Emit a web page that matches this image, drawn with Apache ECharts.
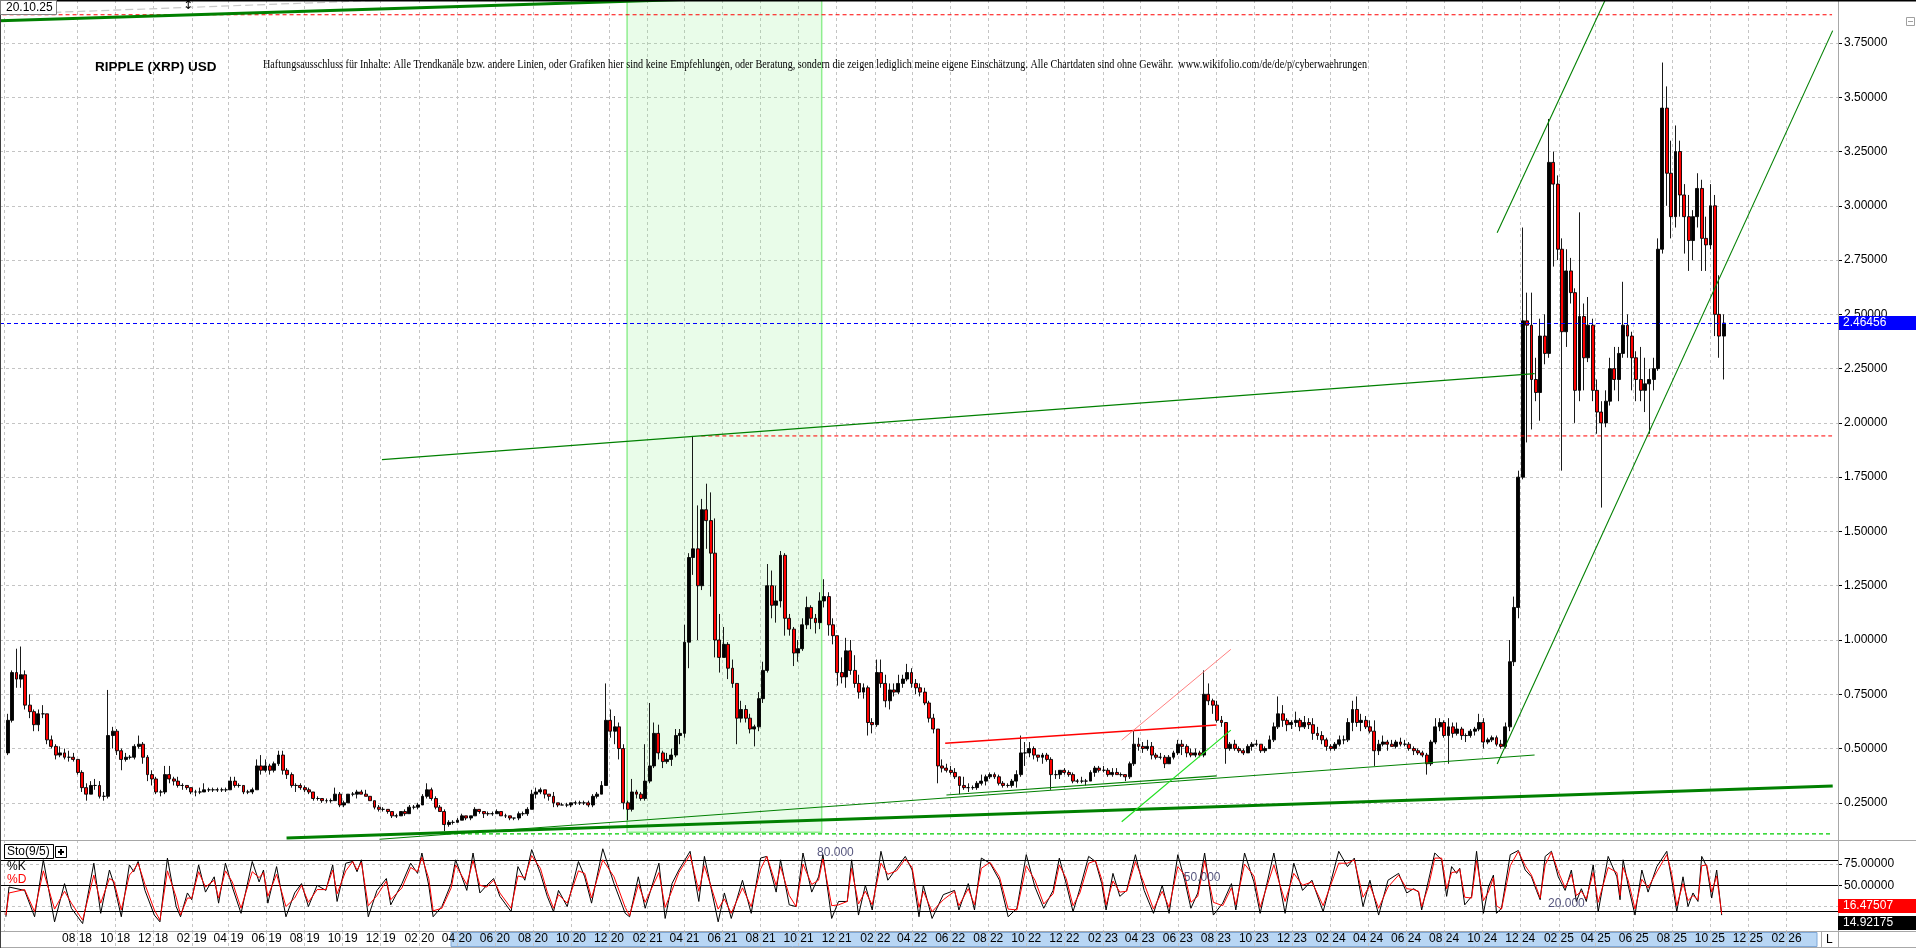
<!DOCTYPE html>
<html>
<head>
<meta charset="utf-8">
<title>RIPPLE (XRP) USD</title>
<script src="https://cdn.jsdelivr.net/npm/echarts@6.0.0/dist/echarts.min.js"></script>
<style>
html,body{margin:0;padding:0;background:#fff;overflow:hidden;}
#chart{width:1916px;height:948px;}
</style>
</head>
<body>
<div id="chart"></div>
<script>
// ================= DATA =================
const chartTitle = 'RIPPLE (XRP) USD';
const disclaimer = 'Haftungsausschluss für Inhalte: Alle Trendkanäle bzw. andere Linien, oder Grafiken hier sind keine Empfehlungen, oder Beratung, sondern die zeigen lediglich meine eigene Einschätzung. Alle Chartdaten sind ohne Gewähr.  www.wikifolio.com/de/de/p/cyberwaehrungen';
const chartDate = '20.10.25';
const stochName = 'Sto(9/5)';
const lastPrice = 2.46456;
const lastD = 16.47507;
const lastK = 14.92175;

const priceTicks = [0.25,0.5,0.75,1.0,1.25,1.5,1.75,2.0,2.25,2.5,2.75,3.0,3.25,3.5,3.75];
const stochTicks = [25,50,75];
const stochLabelTicks = [50,75];
const stochLevels = [80,50,20];
const stochLevelLabels = [['2021-11-29',80,'80.000'],['2023-07-10',50,'50.000'],['2025-02-13',20,'20.000']];
const monthTicks = ['2018-08','2018-10','2018-12',
 '2019-02','2019-04','2019-06','2019-08','2019-10','2019-12',
 '2020-02','2020-04','2020-06','2020-08','2020-10','2020-12',
 '2021-02','2021-04','2021-06','2021-08','2021-10','2021-12',
 '2022-02','2022-04','2022-06','2022-08','2022-10','2022-12',
 '2023-02','2023-04','2023-06','2023-08','2023-10','2023-12',
 '2024-02','2024-04','2024-06','2024-08','2024-10','2024-12',
 '2025-02','2025-04','2025-06','2025-08','2025-10','2025-12',
 '2026-02'];
const firstGridLine = '2018-04-07';

// weekly candles: [open, high, low, close], one per week starting at the given Monday
const start2018 = '2018-04-09';
const ohlc2018 = [
[0.48,0.66,0.47,0.63],[0.63,0.86,0.62,0.85],[0.85,0.96,0.78,0.82],[0.82,0.97,0.78,0.84],[0.84,0.86,0.68,0.70],
[0.70,0.75,0.64,0.67],[0.67,0.68,0.58,0.61],[0.61,0.68,0.58,0.66],[0.66,0.70,0.64,0.66],[0.66,0.66,0.52,0.54],
[0.54,0.56,0.50,0.51],[0.51,0.52,0.45,0.47],[0.47,0.51,0.46,0.48],[0.48,0.50,0.45,0.46],[0.46,0.49,0.44,0.46],
[0.46,0.48,0.44,0.45],[0.45,0.45,0.38,0.39],[0.39,0.40,0.30,0.32],[0.32,0.34,0.26,0.29],[0.29,0.35,0.29,0.33],
[0.33,0.36,0.31,0.33],[0.33,0.35,0.27,0.28],[0.28,0.30,0.26,0.28],[0.28,0.77,0.27,0.56],[0.56,0.60,0.50,0.58],
[0.58,0.59,0.47,0.49],[0.49,0.50,0.40,0.45],[0.45,0.48,0.44,0.46],[0.46,0.47,0.45,0.46],[0.46,0.52,0.45,0.51],
[0.51,0.56,0.50,0.52],[0.52,0.53,0.43,0.46],[0.46,0.47,0.35,0.38],[0.38,0.40,0.33,0.36],[0.36,0.37,0.29,0.30],
[0.30,0.31,0.28,0.30],[0.30,0.42,0.29,0.38],[0.38,0.42,0.34,0.36],[0.36,0.37,0.33,0.35]];
const start2019 = '2019-01-07';
const ohlc2019 = [
[0.35,0.37,0.32,0.33],[0.33,0.34,0.31,0.33],[0.33,0.33,0.31,0.32],[0.32,0.32,0.29,0.30],[0.30,0.31,0.28,0.30],
[0.30,0.32,0.29,0.30],[0.30,0.34,0.30,0.31],[0.31,0.32,0.30,0.31],[0.31,0.32,0.30,0.31],[0.31,0.32,0.30,0.31],
[0.31,0.32,0.30,0.31],[0.31,0.32,0.30,0.31],[0.31,0.37,0.31,0.35],[0.35,0.37,0.32,0.33],[0.33,0.34,0.32,0.33],
[0.33,0.33,0.29,0.30],[0.30,0.31,0.29,0.30],[0.30,0.32,0.29,0.31],[0.31,0.45,0.31,0.42],[0.42,0.47,0.38,0.40],
[0.40,0.45,0.39,0.42],[0.42,0.43,0.38,0.40],[0.40,0.44,0.39,0.43],[0.43,0.49,0.42,0.47],[0.47,0.49,0.38,0.40],
[0.40,0.41,0.36,0.38],[0.38,0.39,0.32,0.33],[0.33,0.34,0.30,0.33],[0.33,0.34,0.31,0.32],[0.32,0.33,0.30,0.31],
[0.31,0.32,0.29,0.30],[0.30,0.30,0.26,0.27],[0.27,0.28,0.26,0.27],[0.27,0.27,0.25,0.26],[0.26,0.27,0.25,0.26],
[0.26,0.27,0.25,0.26],[0.26,0.32,0.26,0.29],[0.29,0.30,0.23,0.24],[0.24,0.26,0.23,0.25],[0.25,0.29,0.25,0.29],
[0.29,0.30,0.28,0.29],[0.29,0.31,0.27,0.30],[0.30,0.31,0.29,0.29],[0.29,0.31,0.28,0.28],[0.28,0.28,0.26,0.26],
[0.26,0.26,0.22,0.23],[0.23,0.24,0.21,0.22],[0.22,0.23,0.21,0.22],[0.22,0.22,0.20,0.21],[0.21,0.21,0.18,0.19],
[0.19,0.20,0.18,0.19],[0.19,0.21,0.19,0.21]];
const start2020 = '2020-01-06';
const ohlc2020 = [
[0.21,0.22,0.19,0.20],[0.20,0.24,0.20,0.23],[0.23,0.24,0.22,0.23],[0.23,0.25,0.22,0.24],[0.24,0.29,0.24,0.28],
[0.28,0.34,0.27,0.31],[0.31,0.32,0.26,0.27],[0.27,0.28,0.22,0.23],[0.23,0.24,0.21,0.21],[0.21,0.22,0.12,0.15],
[0.15,0.17,0.14,0.16],[0.16,0.17,0.15,0.16],[0.16,0.18,0.16,0.17],[0.17,0.20,0.17,0.19],[0.19,0.19,0.17,0.18],
[0.18,0.19,0.17,0.19],[0.19,0.23,0.19,0.22],[0.22,0.22,0.20,0.21],[0.21,0.21,0.18,0.20],[0.20,0.21,0.19,0.20],
[0.20,0.21,0.19,0.20],[0.20,0.22,0.20,0.21],[0.21,0.21,0.19,0.19],[0.19,0.20,0.18,0.19],[0.19,0.19,0.17,0.18],
[0.18,0.18,0.17,0.18],[0.18,0.21,0.17,0.20],[0.20,0.21,0.19,0.20],[0.20,0.23,0.19,0.22],[0.22,0.31,0.22,0.29],
[0.29,0.32,0.27,0.30],[0.30,0.32,0.29,0.31],[0.31,0.31,0.27,0.29],[0.29,0.29,0.26,0.28],[0.28,0.30,0.23,0.25],
[0.25,0.25,0.23,0.24],[0.24,0.25,0.24,0.24],[0.24,0.25,0.23,0.24],[0.24,0.25,0.23,0.25],[0.25,0.26,0.24,0.25],
[0.25,0.26,0.24,0.25],[0.25,0.26,0.24,0.25],[0.25,0.26,0.23,0.24],[0.24,0.29,0.23,0.28],[0.28,0.30,0.27,0.29],
[0.29,0.35,0.29,0.33],[0.33,0.80,0.33,0.63],[0.63,0.68,0.55,0.58],[0.58,0.65,0.52,0.60],[0.60,0.62,0.45,0.50],
[0.50,0.52,0.22,0.25],[0.25,0.26,0.17,0.22]];
const start2021 = '2021-01-04';
const ohlc2021 = [
[0.22,0.36,0.21,0.30],[0.30,0.31,0.27,0.29],[0.29,0.30,0.26,0.27],[0.27,0.52,0.26,0.35],[0.35,0.71,0.34,0.42],
[0.42,0.62,0.41,0.57],[0.57,0.61,0.45,0.48],[0.48,0.49,0.41,0.44],[0.44,0.48,0.43,0.45],[0.45,0.50,0.42,0.47],
[0.47,0.59,0.46,0.56],[0.56,0.59,0.52,0.57],[0.57,1.07,0.55,0.99],[0.99,1.40,0.87,1.38],[1.38,1.94,1.30,1.42],
[1.42,1.62,1.00,1.25],[1.25,1.65,1.23,1.60],[1.60,1.72,1.42,1.55],[1.55,1.68,1.20,1.40],[1.40,1.56,0.92,1.00],
[1.00,1.12,0.85,0.92],[0.92,1.06,0.92,0.98],[0.98,0.99,0.82,0.87],[0.87,0.91,0.78,0.80],[0.80,0.80,0.52,0.64],
[0.64,0.72,0.62,0.68],[0.68,0.70,0.62,0.64],[0.64,0.66,0.57,0.59],[0.59,0.61,0.51,0.60],[0.60,0.76,0.58,0.73],
[0.73,0.90,0.71,0.86],[0.86,1.35,0.85,1.25],[1.25,1.32,1.10,1.16],[1.16,1.25,1.08,1.18],[1.18,1.41,1.15,1.39],
[1.39,1.40,1.02,1.10],[1.10,1.12,1.02,1.05],[1.05,1.06,0.88,0.94],[0.94,1.00,0.90,0.96],[0.96,1.10,0.95,1.07],
[1.07,1.20,1.05,1.15],[1.15,1.16,1.05,1.10],[1.10,1.12,1.03,1.08],[1.08,1.22,1.05,1.18],[1.18,1.28,1.15,1.20],
[1.20,1.22,1.02,1.07],[1.07,1.10,0.98,1.02],[1.02,1.02,0.79,0.85],[0.85,0.92,0.80,0.83],[0.83,1.01,0.78,0.95],
[0.95,1.00,0.84,0.86],[0.86,0.93,0.78,0.80]];
const start2022 = '2022-01-03';
const ohlc2022 = [
[0.80,0.84,0.73,0.76],[0.76,0.80,0.73,0.78],[0.78,0.79,0.56,0.62],[0.62,0.64,0.57,0.61],[0.61,0.91,0.60,0.85],
[0.85,0.91,0.78,0.80],[0.80,0.84,0.69,0.72],[0.72,0.80,0.68,0.77],[0.77,0.80,0.74,0.76],[0.76,0.84,0.75,0.80],
[0.80,0.84,0.78,0.82],[0.82,0.89,0.81,0.85],[0.85,0.87,0.78,0.80],[0.80,0.82,0.75,0.78],[0.78,0.80,0.74,0.76],
[0.76,0.78,0.70,0.71],[0.71,0.72,0.62,0.64],[0.64,0.66,0.57,0.59],[0.59,0.59,0.34,0.42],[0.42,0.45,0.39,0.41],
[0.41,0.43,0.39,0.40],[0.40,0.42,0.38,0.39],[0.39,0.41,0.36,0.37],[0.37,0.37,0.29,0.33],[0.33,0.37,0.31,0.32],
[0.32,0.34,0.30,0.32],[0.32,0.33,0.31,0.32],[0.32,0.35,0.31,0.34],[0.34,0.38,0.33,0.35],[0.35,0.38,0.33,0.37],
[0.37,0.39,0.36,0.38],[0.38,0.39,0.36,0.37],[0.37,0.38,0.33,0.34],[0.34,0.35,0.32,0.33],[0.33,0.34,0.32,0.33],
[0.33,0.36,0.32,0.35],[0.35,0.40,0.32,0.38],[0.38,0.56,0.37,0.48],[0.48,0.53,0.42,0.48],[0.48,0.53,0.46,0.50],
[0.50,0.51,0.45,0.47],[0.47,0.47,0.44,0.46],[0.46,0.48,0.43,0.47],[0.47,0.48,0.44,0.45],[0.45,0.46,0.31,0.38],
[0.38,0.40,0.36,0.38],[0.38,0.40,0.36,0.40],[0.40,0.41,0.38,0.39],[0.39,0.40,0.37,0.38],[0.38,0.39,0.34,0.35],
[0.35,0.36,0.34,0.35],[0.35,0.37,0.34,0.35]];
const start2023 = '2023-01-02';
const ohlc2023 = [
[0.35,0.36,0.33,0.35],[0.35,0.40,0.35,0.39],[0.39,0.42,0.37,0.41],[0.41,0.42,0.39,0.40],[0.40,0.42,0.39,0.40],
[0.40,0.41,0.37,0.38],[0.38,0.41,0.37,0.39],[0.39,0.41,0.38,0.38],[0.38,0.39,0.37,0.38],[0.38,0.38,0.35,0.37],
[0.37,0.44,0.36,0.43],[0.43,0.58,0.42,0.52],[0.52,0.55,0.49,0.51],[0.51,0.53,0.48,0.50],[0.50,0.54,0.49,0.51],
[0.51,0.53,0.45,0.47],[0.47,0.48,0.45,0.46],[0.46,0.48,0.45,0.46],[0.46,0.47,0.41,0.43],[0.43,0.47,0.43,0.46],
[0.46,0.49,0.45,0.48],[0.48,0.54,0.47,0.52],[0.52,0.54,0.47,0.51],[0.51,0.52,0.46,0.48],[0.48,0.50,0.46,0.47],
[0.47,0.50,0.46,0.48],[0.48,0.49,0.46,0.47],[0.47,0.86,0.46,0.75],[0.75,0.80,0.70,0.72],[0.72,0.73,0.66,0.70],
[0.70,0.72,0.62,0.63],[0.63,0.65,0.60,0.62],[0.62,0.62,0.43,0.50],[0.50,0.53,0.49,0.52],[0.52,0.54,0.49,0.50],
[0.50,0.51,0.48,0.49],[0.49,0.50,0.47,0.48],[0.48,0.52,0.48,0.51],[0.51,0.53,0.49,0.52],[0.52,0.54,0.51,0.52],
[0.52,0.52,0.48,0.49],[0.49,0.51,0.48,0.50],[0.50,0.56,0.50,0.54],[0.54,0.62,0.53,0.60],[0.60,0.74,0.59,0.66],
[0.66,0.70,0.60,0.63],[0.63,0.64,0.58,0.61],[0.61,0.63,0.59,0.62],[0.62,0.67,0.60,0.63],[0.63,0.64,0.58,0.60],
[0.60,0.65,0.59,0.62],[0.62,0.64,0.59,0.61]];
const start2024 = '2024-01-01';
const ohlc2024 = [
[0.61,0.64,0.54,0.57],[0.57,0.60,0.54,0.56],[0.56,0.58,0.52,0.54],[0.54,0.55,0.49,0.51],[0.51,0.52,0.49,0.50],
[0.50,0.53,0.49,0.52],[0.52,0.56,0.51,0.54],[0.54,0.56,0.52,0.54],[0.54,0.64,0.53,0.62],[0.62,0.72,0.58,0.68],
[0.68,0.74,0.60,0.62],[0.62,0.66,0.58,0.63],[0.63,0.65,0.59,0.60],[0.60,0.63,0.57,0.58],[0.58,0.63,0.42,0.49],
[0.49,0.54,0.47,0.52],[0.52,0.56,0.51,0.53],[0.53,0.54,0.49,0.52],[0.52,0.54,0.51,0.51],[0.51,0.54,0.50,0.53],
[0.53,0.55,0.51,0.52],[0.52,0.54,0.51,0.52],[0.52,0.53,0.49,0.50],[0.50,0.51,0.47,0.49],[0.49,0.50,0.47,0.48],
[0.48,0.49,0.46,0.47],[0.47,0.48,0.38,0.43],[0.43,0.54,0.42,0.53],[0.53,0.64,0.52,0.60],[0.60,0.64,0.58,0.62],
[0.62,0.63,0.55,0.56],[0.56,0.64,0.43,0.60],[0.60,0.62,0.55,0.57],[0.57,0.62,0.56,0.59],[0.59,0.60,0.54,0.56],
[0.56,0.57,0.53,0.56],[0.56,0.59,0.55,0.58],[0.58,0.60,0.56,0.59],[0.59,0.66,0.58,0.62],[0.62,0.64,0.50,0.53],
[0.53,0.55,0.52,0.54],[0.54,0.56,0.53,0.55],[0.55,0.56,0.51,0.52],[0.52,0.54,0.50,0.51],[0.51,0.62,0.50,0.60],
[0.60,1.00,0.58,0.90],[0.90,1.20,0.88,1.15],[1.15,1.78,1.10,1.75],[1.75,2.90,1.74,2.47],[2.47,2.60,1.91,2.45],
[2.45,2.60,1.97,2.20],[2.20,2.30,2.10,2.14],[2.14,2.48,2.01,2.40]];
const start2025 = '2025-01-06';
const ohlc2025 = [
[2.40,2.50,2.27,2.32],[2.32,3.40,2.30,3.20],[3.20,3.25,2.72,3.10],[3.10,3.14,2.75,2.80],[2.80,2.85,1.78,2.42],
[2.42,2.80,2.35,2.70],[2.70,2.76,2.55,2.60],[2.60,2.62,2.00,2.15],[2.15,2.97,2.10,2.49],[2.49,2.55,2.15,2.30],
[2.30,2.58,2.28,2.45],[2.45,2.48,2.10,2.15],[2.15,2.20,1.95,2.05],[2.05,2.10,1.61,2.00],[2.00,2.15,1.98,2.10],
[2.10,2.30,2.08,2.25],[2.25,2.35,2.15,2.20],[2.20,2.35,2.10,2.32],[2.32,2.65,2.30,2.45],[2.45,2.50,2.30,2.40],
[2.40,2.42,2.15,2.30],[2.30,2.33,2.10,2.20],[2.20,2.35,2.10,2.15],[2.15,2.30,2.05,2.18],[2.18,2.25,1.95,2.20],
[2.20,2.30,2.15,2.25],[2.25,2.85,2.24,2.80],[2.80,3.66,2.78,3.45],[3.45,3.55,3.00,3.15],[3.15,3.30,2.85,2.95],
[2.95,3.37,2.90,3.25],[3.25,3.30,2.95,3.05],[3.05,3.10,2.78,2.95],[2.95,3.05,2.70,2.84],[2.84,2.98,2.75,2.95],
[2.95,3.15,2.90,3.08],[3.08,3.12,2.70,2.85],[2.85,2.95,2.70,2.82],[2.82,3.10,2.80,3.00],[3.00,3.05,2.40,2.50],
[2.50,2.68,2.30,2.40],[2.40,2.50,2.20,2.46]];

// stochastic (9/5): turning points, day offset from stochStart, %K and %D
const stochStart = '2018-04-09';
const stochDay = [
0,5,30,46,60,78,94,105,123,141,152,166,173,185,198,205,212,223,238,247,
259,273,280,291,298,309,320,334,341,352,363,377,395,406,413,420,434,449,463,474,
485,499,513,524,531,545,556,563,570,581,595,610,617,635,649,660,667,678,685,699,
714,721,739,749,760,771,782,792,810,821,832,843,857,868,878,886,900,918,928,939,
957,975,993,1000,1014,1025,1047,1057,1068,1079,1097,1111,
1120,1142,1152,1163,1181,1195,1210,1220,1235,1242,1256,1267,1278,1292,1303,1310,1324,1335,1349,1356,
1367,1378,1389,1403,1414,1428,1442,1453,1464,1471,1485,1503,1521,1528,1543,1553,1564,1578,1593,1607,
1621,1636,1650,1664,1679,1689,1700,1711,1722,1736,1747,1757,1764,1775,1786,1797,1811,1825,1840,1854,
1865,1879,1890,1900,1911,1922,1936,1951,1965,1972,1986,2001,2011,2033,2051,2065,2079,2094,2112,2137,
2151,2162,2176,2187,2201,2216,2233,
2246,2257,2265,2270,2281,2291,2302,2310,2318,2326,2331,2339,2350,2358,2369,2377,2385,2390,2398,2412,
2425,2436,2446,2454,2460,2468,2478,2489,2500,2510,2518,2526,2534,2545,2553,2569,2583,2588,2593,2601,
2612,2623,2633,2647,2663,2671,2679,2689,2697,2705,2713,2719,2727,2735,2743,2751];
const stochK = [
13,48,44,13,80,7,52,23,5,76,17,68,52,13,74,66,78,44,15,7,
82,25,13,41,33,74,42,60,29,76,48,17,78,54,68,29,72,13,41,52,
25,50,44,74,31,76,78,66,80,13,44,58,27,52,76,64,88,50,13,25,
52,80,44,88,41,50,58,37,19,72,56,92,64,37,19,44,25,78,60,29,
93,52,17,13,60,23,76,11,52,68,90,31,
84,7,41,11,56,17,82,84,42,80,27,25,88,42,60,86,11,31,31,80,
15,50,21,90,56,70,84,68,13,50,11,39,44,21,52,21,82,76,56,13,
23,86,48,23,44,82,52,19,46,84,78,52,21,64,37,44,86,44,17,50,
17,86,56,23,41,88,15,29,52,21,88,54,17,88,17,76,44,56,19,90,
72,82,25,56,15,56,64,
41,46,42,21,56,88,80,37,72,64,70,27,37,90,17,48,62,17,23,86,
91,68,60,44,33,84,90,60,44,68,31,46,31,74,19,84,60,33,80,50,
15,68,42,72,90,56,19,60,25,41,31,84,72,35,68,14.92];
const stochD = [
15,41,45,19,67,22,43,29,9,62,29,58,55,21,62,68,76,51,21,9,
67,36,15,35,35,66,48,56,35,67,54,23,66,59,65,37,63,25,35,50,
30,45,45,68,40,67,78,68,77,26,38,55,33,47,71,66,83,58,20,23,
47,74,51,79,50,48,56,41,23,61,59,85,70,42,23,39,29,67,64,35,
80,60,24,14,51,30,65,24,44,65,86,43,
73,22,34,17,47,25,69,84,50,72,38,25,75,51,56,81,26,27,31,70,
28,43,27,76,63,67,81,71,24,43,19,33,43,26,46,27,70,77,60,22,
21,73,56,28,40,74,58,26,41,76,79,57,27,55,42,43,78,52,22,43,
24,72,62,30,37,79,30,26,47,27,75,61,24,74,31,64,50,54,26,76,
76,80,36,50,23,48,62,
46,45,43,25,49,82,82,46,65,66,69,36,35,79,32,42,59,26,22,73,
90,73,62,47,35,74,89,66,47,63,38,43,34,65,30,71,65,38,71,56,
22,57,47,66,86,63,26,52,32,38,33,73,74,42,61,16.48];

// trend lines and horizontal marks drawn on the chart: [date, price]
const tlTopThick     = [['2018-03-01',3.850],['2022-03-12',3.981]];
const tlBottomThick  = [['2019-07-03',0.088],['2026-04-16',0.3275]];
const tlUpperLong    = [['2019-12-03',1.831],['2024-12-24',2.227]];
const tlLowerLong    = [['2019-11-29',0.082],['2024-12-24',0.470]];
const tlChannel22Low = [['2022-05-26',0.286],['2023-08-02',0.374]];
const tlRed22        = [['2022-05-24',0.524],['2023-08-02',0.609]];
const tlPinkDiag     = [['2023-03-03',0.539],['2023-08-25',0.957]];
const tlLimeDiag     = [['2023-03-03',0.163],['2023-08-25',0.585]];
const tlChannelUp    = [['2024-10-25',2.876],['2025-06-27',4.392]];
const tlChannelLow   = [['2024-10-25',0.429],['2026-04-16',3.807]];
const tlGreyTop      = [['2018-06-24',3.891],['2020-02-18',3.955]];
const hlRedTop       = [['2018-03-01',3.88],['2026-04-15',3.88]];
const hlRedMid       = [['2021-04-28',1.94],['2026-04-15',1.94]];
const hlGreenLow     = [['2020-03-05',0.107],['2026-04-15',0.107]];
const greenZone      = [['2020-12-30',0.115],['2021-11-07',3.948]];

// ================= BUILD =================
const DAY = 86400000;
function utc(s){const p=s.split('-').map(Number);return Date.UTC(p[0],p[1]-1,p[2]||1);}
const t0 = utc(stochStart);
// axis extent (calibrated to the reference frame)
const xMin = t0 - 9.46*DAY, xMax = t0 + 2937.5*DAY;
const yMin = 0.0788, yMax = 3.948;
const sMin = -3.76, sMax = 103.3;

const years = [[start2018,ohlc2018],[start2019,ohlc2019],[start2020,ohlc2020],[start2021,ohlc2021],
               [start2022,ohlc2022],[start2023,ohlc2023],[start2024,ohlc2024],[start2025,ohlc2025]];
const candles = [];
years.forEach(([s,arr])=>{const ts=utc(s);arr.forEach((q,i)=>{candles.push([ts+(i*7+3)*DAY,q[0],q[3],q[2],q[1]]);});});

const kData = stochDay.map((d,i)=>[t0+d*DAY, stochK[i]]);
const dData = stochDay.map((d,i)=>[t0+d*DAY, stochD[i]]);

const monthTs = monthTicks.map(m=>utc(m+'-01'));
const gridTs = [utc(firstGridLine)].concat(monthTs);
function fmtMonth(v){const d=new Date(Number(v));const m=d.getUTCMonth()+1;const y=d.getUTCFullYear()%100;return (m<10?'0':'')+m+' '+(y<10?'0':'')+y;}

const FONT = 'Liberation Sans';
const splitStyle = {show:true,lineStyle:{color:'#c4c4c4',width:1,type:[3,3]}};

function mkLine(pts,color,width,type,z){
  return {type:'line',xAxisIndex:0,yAxisIndex:0,data:pts.map(p=>[utc(p[0]),p[1]]),symbol:'none',silent:true,
    clip:true,lineStyle:{color:color,width:width,type:type||'solid'},z:z||4,animation:false};
}

const series = [
  {type:'candlestick',xAxisIndex:0,yAxisIndex:0,data:candles,encode:{x:0,y:[1,2,3,4]},barWidth:3.4,z:3,
   itemStyle:{color:'#000000',color0:'#ff0000',borderColor:'#000000',borderColor0:'#000000',borderWidth:0.9},
   markArea:{silent:true,itemStyle:{color:'rgba(144,238,144,0.2)',borderColor:'#90ee90',borderWidth:1.5},
     data:[[{coord:[utc(greenZone[0][0]),greenZone[0][1]]},{coord:[utc(greenZone[1][0]),greenZone[1][1]]}]]},
   markLine:{silent:true,symbol:'none',animation:false,data:[{yAxis:lastPrice}],
     lineStyle:{color:'#0000ff',type:[4,3],width:1},
     label:{show:true,position:'end',distance:0,formatter:lastPrice.toFixed(5),backgroundColor:'#0000ff',
       color:'#ffffff',padding:[1,33,1,5],fontSize:12,fontFamily:FONT}}},
  mkLine(hlRedTop,'#ff0000',1,[4,3],4),
  mkLine(hlRedMid,'#ff0000',1,[4,3],4),
  mkLine(hlGreenLow,'#00cc00',1.2,[4,3],4),
  mkLine(tlGreyTop,'#c8c8c8',1.2,[8,4],4),
  mkLine(tlTopThick,'#008000',3,'solid',5),
  mkLine(tlBottomThick,'#008000',3,'solid',5),
  mkLine(tlUpperLong,'#008000',1.1,'solid',5),
  mkLine(tlLowerLong,'#008000',1.1,'solid',5),
  mkLine(tlChannel22Low,'#008000',1.1,'solid',5),
  mkLine(tlRed22,'#ff0000',1.5,'solid',5),
  mkLine(tlPinkDiag,'#ff8080',1,'solid',5),
  mkLine(tlLimeDiag,'#22e022',1.2,'solid',5),
  mkLine(tlChannelUp,'#008000',1.1,'solid',5),
  mkLine(tlChannelLow,'#008000',1.1,'solid',5),
  {type:'line',xAxisIndex:1,yAxisIndex:1,data:kData,symbol:'none',silent:true,lineStyle:{color:'#000000',width:1},z:4,
   markLine:{silent:true,symbol:'none',animation:false,label:{show:false},
     lineStyle:{color:'#000000',type:'solid',width:1},data:stochLevels.map(v=>({yAxis:v}))}},
  {type:'line',xAxisIndex:1,yAxisIndex:1,data:dData,symbol:'none',silent:true,lineStyle:{color:'#ff0000',width:1},z:5},
  {type:'scatter',xAxisIndex:1,yAxisIndex:1,symbolSize:1,itemStyle:{color:'rgba(0,0,0,0)'},silent:true,z:6,
   data:stochLevelLabels.map(a=>[utc(a[0]),a[1],a[2]]),
   label:{show:true,position:'top',distance:1,formatter:p=>stochLevelLabels[p.dataIndex][2],color:'#2b2b5c',fontSize:12,fontFamily:FONT}}
];

// disclaimer width fit
const cv = document.createElement('canvas').getContext('2d');
cv.font = '13px "Liberation Serif"';
const discW = cv.measureText(disclaimer).width || 1200;
const discScale = 1104/discW;

const graphic = [
  {type:'rect',z:-1,silent:true,shape:{x:451,y:932.5,width:1366,height:14},style:{fill:'#b8d6f4',stroke:'#7fa8d8',lineWidth:1}},
  {type:'line',z:50,silent:true,shape:{x1:0,y1:840.5,x2:1916,y2:840.5},style:{stroke:'#a8a8a8',lineWidth:1}},
  {type:'line',z:50,silent:true,shape:{x1:0,y1:931.5,x2:1916,y2:931.5},style:{stroke:'#a8a8a8',lineWidth:1}},
  {type:'line',z:50,silent:true,shape:{x1:0,y1:947.5,x2:1916,y2:947.5},style:{stroke:'#a8a8a8',lineWidth:1}},
  {type:'line',z:50,silent:true,shape:{x1:1838.5,y1:0,x2:1838.5,y2:948},style:{stroke:'#a8a8a8',lineWidth:1}},
  {type:'line',z:50,silent:true,shape:{x1:1821.5,y1:932,x2:1821.5,y2:948},style:{stroke:'#a8a8a8',lineWidth:1}},
  {type:'text',z:50,silent:true,x:1826,y:940,style:{text:'L',font:'12px "Liberation Sans"',fill:'#000',verticalAlign:'middle',textVerticalAlign:'middle'}},
  {type:'line',z:50,silent:true,shape:{x1:0,y1:0.75,x2:1916,y2:0.75},style:{stroke:'#000',lineWidth:1.5}},
  {type:'line',z:50,silent:true,shape:{x1:0.5,y1:0,x2:0.5,y2:948},style:{stroke:'#404040',lineWidth:1}},
  {type:'rect',z:60,silent:true,shape:{x:0.5,y:0.5,width:56,height:14},style:{fill:'#ffffff',stroke:'#808080',lineWidth:1}},
  {type:'text',z:61,silent:true,x:6,y:8,style:{text:chartDate,font:'12px "Liberation Sans"',fill:'#000',verticalAlign:'middle',textVerticalAlign:'middle'}},
  {type:'text',z:61,silent:true,x:188,y:6,style:{text:'\u2195',font:'12px "DejaVu Sans"',fill:'#000',align:'center',textAlign:'center',verticalAlign:'middle',textVerticalAlign:'middle'}},
  {type:'rect',z:61,silent:true,shape:{x:1906.5,y:17.5,width:8,height:8},style:{fill:'#fff',stroke:'#a0a0a0',lineWidth:1}},
  {type:'line',z:61,silent:true,shape:{x1:1908,y1:21.5,x2:1913,y2:21.5},style:{stroke:'#a0a0a0',lineWidth:1}},
  {type:'text',z:61,silent:true,x:95,y:67,style:{text:chartTitle,font:'bold 13.5px "Liberation Sans"',fill:'#000',verticalAlign:'middle',textVerticalAlign:'middle'}},
  {type:'text',z:61,silent:true,x:263,y:65,scaleX:discScale,style:{text:disclaimer,font:'13px "Liberation Serif"',fill:'#000',verticalAlign:'middle',textVerticalAlign:'middle'}},
  {type:'rect',z:61,silent:true,shape:{x:4.5,y:844.5,width:49,height:14},style:{fill:'#fff',stroke:'#000',lineWidth:1}},
  {type:'text',z:62,silent:true,x:7,y:852,style:{text:stochName,font:'12px "Liberation Sans"',fill:'#000',verticalAlign:'middle',textVerticalAlign:'middle'}},
  {type:'rect',z:61,silent:true,shape:{x:55.5,y:846.5,width:11,height:11},style:{fill:'#fff',stroke:'#000',lineWidth:1}},
  {type:'line',z:62,silent:true,shape:{x1:58,y1:852,x2:64,y2:852},style:{stroke:'#000',lineWidth:2}},
  {type:'line',z:62,silent:true,shape:{x1:61,y1:849,x2:61,y2:855},style:{stroke:'#000',lineWidth:2}},
  {type:'text',z:62,silent:true,x:7,y:867,style:{text:'%K',font:'12px "Liberation Sans"',fill:'#000',verticalAlign:'middle',textVerticalAlign:'middle'}},
  {type:'text',z:62,silent:true,x:7,y:880,style:{text:'%D',font:'12px "Liberation Sans"',fill:'#ff0000',verticalAlign:'middle',textVerticalAlign:'middle'}},
  {type:'rect',z:62,silent:true,shape:{x:1838,y:899,width:78,height:14},style:{fill:'#ff0000'}},
  {type:'text',z:63,silent:true,x:1843,y:906,style:{text:lastD.toFixed(5),font:'12px "Liberation Sans"',fill:'#fff',verticalAlign:'middle',textVerticalAlign:'middle'}},
  {type:'rect',z:62,silent:true,shape:{x:1838,y:916,width:78,height:14},style:{fill:'#000000'}},
  {type:'text',z:63,silent:true,x:1843,y:923,style:{text:lastK.toFixed(5),font:'12px "Liberation Sans"',fill:'#fff',verticalAlign:'middle',textVerticalAlign:'middle'}}
];

const xBase = {type:'value',min:xMin,max:xMax,scale:true,axisLine:{show:false},splitLine:splitStyle};
const option = {
  animation:false,
  backgroundColor:'#ffffff',
  textStyle:{fontFamily:FONT},
  grid:[
    {left:0,right:78,top:0,height:840,outerBoundsMode:'none',containLabel:false},
    {left:0,right:78,top:840,height:91,outerBoundsMode:'none',containLabel:false},
    {left:0,right:78,top:931,height:17,outerBoundsMode:'none',containLabel:false}
  ],
  xAxis:[
    Object.assign({},xBase,{gridIndex:0,axisTick:{show:false,customValues:gridTs},axisLabel:{show:false}}),
    Object.assign({},xBase,{gridIndex:1,axisTick:{show:false,customValues:gridTs},axisLabel:{show:false}}),
    Object.assign({},xBase,{gridIndex:2,position:'top',axisTick:{show:false,customValues:monthTs},
      axisLabel:{show:true,inside:true,margin:2,customValues:monthTs,formatter:fmtMonth,hideOverlap:false,
        color:'#000',fontSize:12,fontFamily:FONT}})
  ],
  yAxis:[
    {type:'value',gridIndex:0,position:'right',min:yMin,max:yMax,
     axisLine:{show:true,lineStyle:{color:'#a8a8a8'}},
     axisTick:{show:true,length:4,customValues:priceTicks,lineStyle:{color:'#000'}},
     axisLabel:{show:true,customValues:priceTicks,margin:6,formatter:v=>Number(v).toFixed(5),color:'#000',fontSize:12,fontFamily:FONT,hideOverlap:false},
     splitLine:splitStyle},
    {type:'value',gridIndex:1,position:'right',min:sMin,max:sMax,
     axisLine:{show:true,lineStyle:{color:'#a8a8a8'}},
     axisTick:{show:true,length:4,customValues:stochTicks,lineStyle:{color:'#000'}},
     axisLabel:{show:true,customValues:stochLabelTicks,margin:6,formatter:v=>Number(v).toFixed(5),color:'#000',fontSize:12,fontFamily:FONT,hideOverlap:false},
     splitLine:splitStyle},
    {type:'value',gridIndex:2,show:false,min:0,max:1,splitLine:{show:false}}
  ],
  series:series,
  graphic:graphic
};

const chart = echarts.init(document.getElementById('chart'),null,{renderer:'canvas',width:1916,height:948});
chart.setOption(option);
</script>
</body>
</html>
